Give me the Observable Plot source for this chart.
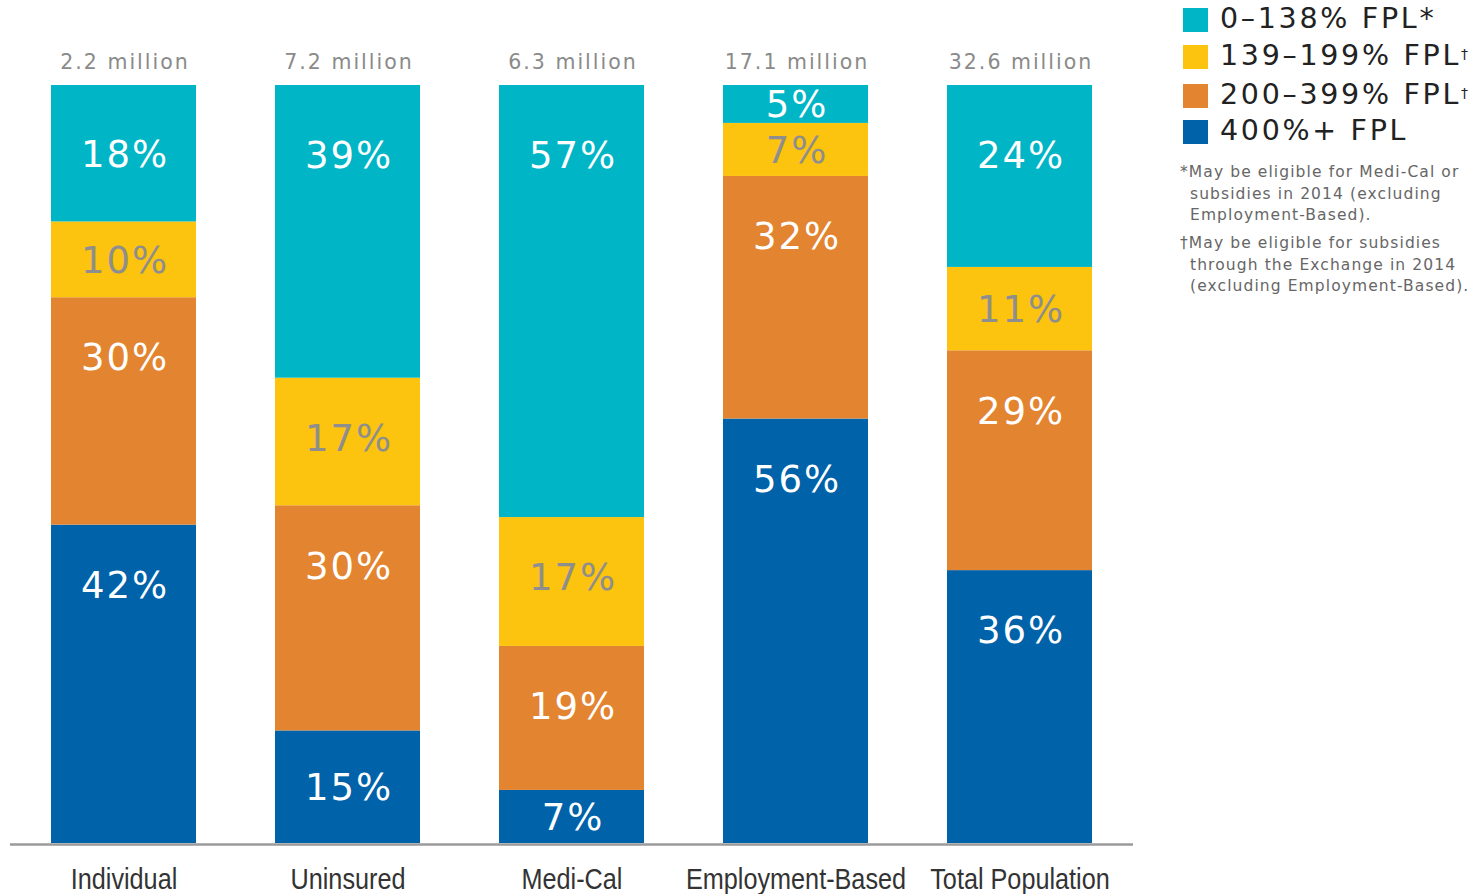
<!DOCTYPE html>
<html><head><meta charset="utf-8">
<script src="https://cdn.jsdelivr.net/npm/d3@7"></script>
<script src="https://cdn.jsdelivr.net/npm/@observablehq/plot@0.6"></script>
<style>
body{margin:0;background:#fff;}
#wrap{position:relative;width:1478px;height:894px;overflow:hidden;}
#legend{position:absolute;left:1180px;top:0;font-family:"DejaVu Sans",sans-serif;}
.row{position:absolute;left:3px;height:30px;white-space:nowrap;}
.sw{position:absolute;left:0;width:25px;height:24px;}
.lt{position:absolute;left:37px;top:-4px;font-size:28.5px;color:#222;letter-spacing:2.7px;line-height:30px;}
.lt sup{font-size:14px;vertical-align:top;position:relative;top:-2px;}
.note{position:absolute;left:0;width:300px;font-size:15.5px;color:#666;line-height:21.5px;padding-left:10px;text-indent:-10px;white-space:nowrap;letter-spacing:1.1px;}
</style></head><body>
<div id="wrap"><div id="chart"></div><div id="legend"></div></div>
<script>
const categories = ["Individual", "Uninsured", "Medi-Cal", "Employment-Based", "Total Population"];
const totals = ["2.2 million", "7.2 million", "6.3 million", "17.1 million", "32.6 million"];
const groups = ["0–138% FPL", "139–199% FPL", "200–399% FPL", "400%+ FPL"];
const legendMarks = ["*", "†", "†", ""];
const fpl0to138 = [18, 39, 57, 5, 24];
const fpl139to199 = [10, 17, 17, 7, 11];
const fpl200to399 = [30, 30, 19, 32, 29];
const fpl400plus = [42, 15, 7, 56, 36];
const colors = ["#00b5c5", "#fcc30f", "#e38431", "#0062a9"];
const footnotes = [
  "*May be eligible for Medi-Cal or<br>subsidies in 2014 (excluding<br>Employment-Based).",
  "†May be eligible for subsidies<br>through the Exchange in 2014<br>(excluding Employment-Based)."
];

const series = [fpl0to138, fpl139to199, fpl200to399, fpl400plus];
const rows = [];
categories.forEach((cat, i) => {
  const sum = series.reduce((s, arr) => s + arr[i], 0);
  let base = 0;
  for (let g = series.length - 1; g >= 0; g--) {
    const v = series[g][i];
    const h = v / sum * 100;
    const y1 = base, y2 = base + h;
    const cap = g === 0 ? 9.2 : 7.9;
    rows.push({cat, group: groups[g], value: v, y1, y2, ly: y2 - Math.min(h / 2, cap), g});
    base = y2;
  }
});
const topRows = categories.map((c, i) => ({cat: c, label: totals[i]}));

const chart = Plot.plot({
  width: 1478, height: 894,
  marginTop: 85, marginBottom: 51, marginLeft: 10, marginRight: 345,
  x: {domain: categories, paddingInner: 0.354, paddingOuter: 0.177, axis: null},
  y: {domain: [0, 100], axis: null},
  color: {domain: groups, range: colors},
  marks: [
    Plot.rectY(rows, {x: "cat", y1: "y1", y2: "y2", fill: "group"}),
    Plot.ruleY([0], {stroke: "#9a9a9a", strokeWidth: 2.5, dy: 1}),
    Plot.text(rows.filter(d => d.g !== 1), {x: "cat", y: "ly", dy: 1, dx: 1, text: d => d.value + "%", fill: "white", fontSize: 37, fontFamily: "DejaVu Sans"}),
    Plot.text(rows.filter(d => d.g === 1), {x: "cat", y: "ly", dy: 1, dx: 1, text: d => d.value + "%", fill: "#8e8e8e", fontSize: 37, fontFamily: "DejaVu Sans"}),
    Plot.text(topRows, {x: "cat", y: 100, dy: -23, dx: 1, text: "label", fill: "#8a8a8a", fontSize: 20.5, fontFamily: "DejaVu Sans"}),
    Plot.text(categories, {x: d => d, y: 0, dy: 36, text: d => d, fill: "#333", fontSize: 29, fontFamily: "Liberation Sans"})
  ]
});
document.getElementById("chart").appendChild(chart);
d3.select(chart).selectAll("text").each(function() {
  const s = this.textContent;
  if (totals.includes(s)) {
    this.setAttribute("letter-spacing", "2px");
  } else if (/^\d+%$/.test(s)) {
    this.setAttribute("letter-spacing", "2px");
  } else if (categories.includes(s)) {
    const t = this.getAttribute("transform") || "";
    const x = this.getAttribute("x");
    if (x != null) {
      this.removeAttribute("x");
      this.setAttribute("transform", `${t} translate(${+x || 0},0) scale(0.87,1)`);
    } else {
      this.setAttribute("transform", `${t} scale(0.87,1)`);
    }
  }
});

const legend = d3.select("#legend");
const rowTops = [8, 45, 84, 120];
groups.forEach((g, i) => {
  const r = legend.append("div").attr("class", "row").style("top", rowTops[i] + "px");
  r.append("div").attr("class", "sw").style("background", colors[i]);
  const t = r.append("div").attr("class", "lt");
  if (legendMarks[i] === "†") t.html(g.replace("FPL", "FPL<sup>†</sup>"));
  else t.text(g + legendMarks[i]);
});
const noteTops = [162, 233];
footnotes.forEach((n, i) => {
  legend.append("div").attr("class", "note").style("top", noteTops[i] + "px").html(n);
});
</script>
</body></html>
